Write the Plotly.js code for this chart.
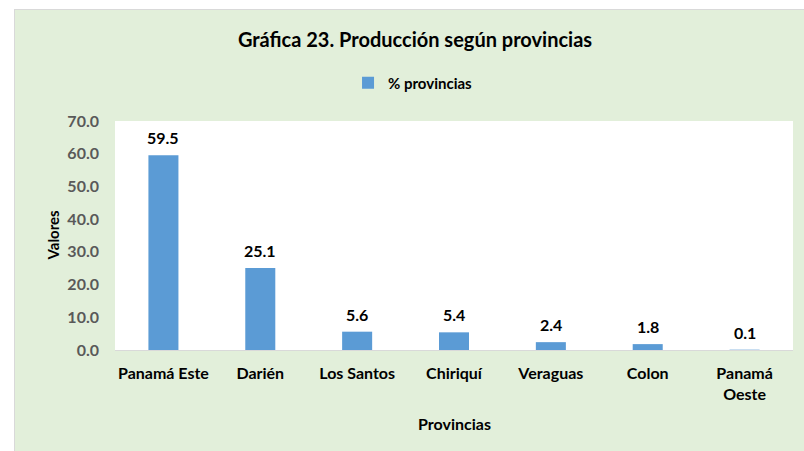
<!DOCTYPE html>
<html>
<head>
<meta charset="utf-8">
<script src="https://cdn.plot.ly/plotly-3.0.1.min.js"></script>
<style>
html,body{margin:0;padding:0;background:#ffffff;width:804px;height:451px;overflow:hidden;}
#chart{position:absolute;left:14px;top:9px;width:789px;height:441px;border-top:1px solid #d9d9d9;border-left:1px solid #d9d9d9;}
</style>
</head>
<body>
<div id="chart"></div>
<script>
const provincias = ["Panamá Este","Darién","Los Santos","Chiriquí","Veraguas","Colon","Panamá<br>Oeste"];
const valores = [59.5, 25.1, 5.6, 5.4, 2.4, 1.8, 0.1];
const etiquetas = ["59.5","25.1","5.6","5.4","2.4","1.8","0.1"];
const serie = "% provincias";
const titulo = "Gráfica 23. Producción según provincias";
const tituloY = "Valores";
const tituloX = "Provincias";

const FONT = "Lato, 'Open Sans', sans-serif";

const trace = {
  type: "bar",
  x: provincias,
  y: valores,
  name: "<b>" + serie + "</b>",
  marker: {color: "#5B9BD5"},
  width: 0.31,
  hoverinfo: "skip",
  showlegend: true
};

const annotations = provincias.map((p, i) => ({
  x: p, y: valores[i], xref: "x", yref: "y",
  text: "<b>" + etiquetas[i] + "</b>",
  showarrow: false, yanchor: "bottom", yshift: 6,
  font: {family: FONT, size: 16, color: "#000000"}
}));
annotations.push({
  xref: "paper", yref: "paper", x: -0.0929, y: 0.50,
  text: "<b>" + tituloY + "</b>", textangle: -90, showarrow: false,
  xanchor: "center", yanchor: "middle",
  font: {family: FONT, size: 15, color: "#000000"}
});
annotations.push({
  xref: "paper", yref: "paper", x: 0.5, y: -0.319,
  text: "<b>" + tituloX + "</b>", showarrow: false,
  xanchor: "center", yanchor: "middle",
  font: {family: FONT, size: 16, color: "#000000"}
});

const layout = {
  width: 789, height: 441,
  margin: {l: 100, r: 11, t: 111, b: 101},
  paper_bgcolor: "#E2EFDA",
  plot_bgcolor: "#ffffff",
  font: {family: FONT, color: "#000000"},
  title: {
    text: "<b>" + titulo + "</b>",
    xref: "container", x: 0.507, xanchor: "center",
    yref: "container", y: 1 - 30/441, yanchor: "middle",
    font: {family: FONT, size: 20, color: "#000000"}
  },
  showlegend: true,
  legend: {
    orientation: "h", x: 0.3437, xanchor: "left", y: 1.166, yanchor: "middle",
    bgcolor: "rgba(0,0,0,0)",
    font: {family: FONT, size: 15, color: "#000000"},
    itemwidth: 30
  },
  xaxis: {
    type: "category",
    showgrid: false,
    showline: true, linecolor: "#d9d9d9", linewidth: 1,
    ticks: "", ticklabelstandoff: 9,
    tickfont: {family: FONT, size: 16, color: "#000000", weight: "bold"},
    fixedrange: true
  },
  yaxis: {
    range: [0, 70], dtick: 10, tick0: 0, tickformat: ".1f",
    showgrid: false, zeroline: false, showline: false,
    ticks: "", ticklabelstandoff: 15,
    tickfont: {family: FONT, size: 16, color: "#595959", weight: "bold"},
    fixedrange: true
  },
  annotations: annotations
};

Plotly.newPlot("chart", [trace], layout, {displayModeBar: false, staticPlot: true});
</script>
</body>
</html>
